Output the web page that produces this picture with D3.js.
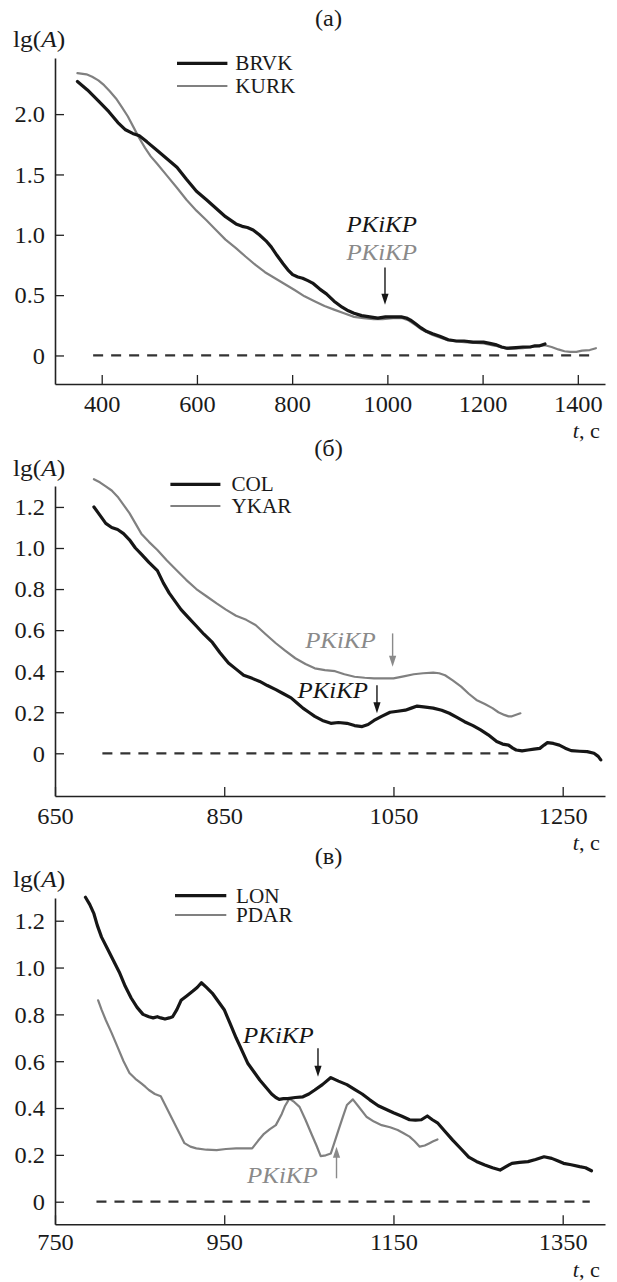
<!DOCTYPE html>
<html><head><meta charset="utf-8">
<script src="https://cdn.jsdelivr.net/npm/d3@7"></script>
<style>
body{margin:0;background:#fff}
svg{display:block}
text{font-family:"Liberation Serif","Times New Roman",serif;fill:#1a1a1a}
</style>
</head><body>
<svg id="chart" width="617" height="1282" font-family="Liberation Serif, serif"></svg>
<script>
// ---------- DATA ----------
const brvk = [[349,2.27],[370,2.20],[393,2.11],[415,2.02],[434,1.93],[450,1.87],[465,1.84],[479,1.82],[495,1.77],[516,1.70],[537,1.63],[558,1.56],[578,1.46],[599,1.36],[620,1.29],[640,1.22],[660,1.15],[682,1.09],[695,1.07],[706,1.06],[718,1.04],[731,1.00],[745,0.95],[756,0.90],[768,0.83],[781,0.76],[791,0.71],[801,0.67],[812,0.65],[822,0.64],[833,0.62],[843,0.60],[858,0.55],[872,0.51],[888,0.45],[905,0.40],[918,0.37],[930,0.35],[946,0.33],[963,0.32],[980,0.31],[996,0.32],[1012,0.32],[1029,0.32],[1040,0.31],[1050,0.29],[1060,0.26],[1070,0.23],[1082,0.20],[1095,0.18],[1110,0.16],[1128,0.13],[1145,0.12],[1161,0.12],[1180,0.11],[1202,0.11],[1215,0.10],[1227,0.09],[1240,0.07],[1252,0.06],[1270,0.065],[1285,0.07],[1300,0.07],[1310,0.08],[1320,0.08],[1331,0.095]];
const kurk = [[349,2.34],[368,2.33],[380,2.31],[393,2.28],[405,2.24],[417,2.19],[430,2.13],[442,2.06],[455,1.98],[467,1.89],[479,1.80],[491,1.72],[503,1.65],[516,1.59],[537,1.49],[558,1.39],[578,1.29],[599,1.20],[620,1.12],[640,1.04],[660,0.96],[682,0.89],[702,0.82],[723,0.75],[743,0.69],[764,0.64],[785,0.59],[806,0.54],[826,0.49],[847,0.45],[868,0.41],[888,0.38],[909,0.35],[930,0.32],[950,0.31],[971,0.30],[990,0.30],[1012,0.31],[1030,0.31],[1045,0.29],[1060,0.25],[1070,0.22],[1095,0.17],[1128,0.125],[1161,0.11],[1202,0.10],[1227,0.08],[1252,0.055],[1285,0.06],[1310,0.075],[1331,0.085],[1345,0.07],[1359,0.05],[1372,0.035],[1384,0.03],[1397,0.03],[1409,0.04],[1425,0.045],[1438,0.06]];

const col = [[696,1.20],[703,1.16],[710,1.12],[717,1.10],[724,1.09],[731,1.07],[738,1.04],[745,1.00],[752,0.97],[761,0.93],[771,0.89],[778,0.83],[785,0.78],[792,0.74],[799,0.70],[808,0.66],[817,0.62],[826,0.58],[836,0.54],[845,0.49],[855,0.44],[864,0.41],[873,0.38],[883,0.365],[892,0.35],[901,0.33],[911,0.31],[920,0.29],[929,0.27],[936,0.245],[943,0.22],[950,0.20],[957,0.18],[966,0.16],[976,0.146],[985,0.15],[995,0.146],[1004,0.135],[1013,0.13],[1020,0.14],[1027,0.16],[1036,0.18],[1046,0.20],[1055,0.205],[1064,0.21],[1071,0.22],[1078,0.23],[1088,0.225],[1097,0.22],[1107,0.21],[1116,0.195],[1125,0.175],[1134,0.154],[1144,0.135],[1153,0.114],[1162,0.09],[1172,0.057],[1179,0.045],[1186,0.04],[1191,0.025],[1195,0.016],[1202,0.012],[1209,0.016],[1216,0.02],[1223,0.024],[1228,0.04],[1232,0.052],[1239,0.048],[1246,0.04],[1253,0.025],[1260,0.013],[1270,0.01],[1279,0.008],[1287,0.0],[1292,-0.015],[1295,-0.032]];
const ykar = [[696,1.335],[703,1.32],[710,1.30],[717,1.28],[724,1.25],[731,1.21],[738,1.17],[745,1.12],[752,1.07],[761,1.03],[771,0.99],[782,0.94],[794,0.89],[805,0.845],[817,0.80],[829,0.765],[841,0.73],[852,0.70],[864,0.67],[876,0.65],[887,0.625],[899,0.58],[911,0.536],[922,0.50],[934,0.463],[946,0.435],[957,0.414],[969,0.405],[981,0.40],[992,0.385],[1004,0.373],[1016,0.368],[1027,0.365],[1039,0.365],[1050,0.365],[1062,0.375],[1074,0.385],[1085,0.39],[1097,0.393],[1104,0.39],[1111,0.38],[1120,0.355],[1130,0.325],[1139,0.29],[1148,0.26],[1158,0.24],[1167,0.22],[1174,0.20],[1181,0.187],[1186,0.18],[1190,0.18],[1195,0.188],[1200,0.195]];

const lon = [[786,1.30],[791,1.27],[796,1.23],[800,1.18],[805,1.13],[812,1.08],[819,1.03],[826,0.98],[833,0.92],[840,0.87],[847,0.83],[854,0.80],[861,0.79],[866,0.785],[871,0.79],[875,0.785],[880,0.78],[885,0.785],[889,0.79],[894,0.82],[899,0.86],[906,0.88],[913,0.90],[918,0.915],[923,0.935],[929,0.915],[936,0.89],[943,0.855],[950,0.82],[957,0.76],[964,0.70],[971,0.645],[978,0.59],[985,0.555],[992,0.52],[999,0.49],[1006,0.46],[1011,0.445],[1015,0.437],[1020,0.44],[1025,0.44],[1034,0.445],[1043,0.448],[1050,0.46],[1057,0.477],[1066,0.50],[1076,0.53],[1085,0.515],[1095,0.50],[1104,0.48],[1113,0.46],[1122,0.435],[1132,0.41],[1141,0.395],[1150,0.38],[1160,0.365],[1169,0.35],[1176,0.348],[1183,0.35],[1190,0.366],[1196,0.35],[1202,0.337],[1211,0.30],[1220,0.263],[1230,0.225],[1239,0.19],[1248,0.172],[1258,0.157],[1267,0.145],[1276,0.135],[1283,0.15],[1290,0.164],[1299,0.168],[1309,0.171],[1318,0.18],[1328,0.192],[1337,0.185],[1344,0.175],[1351,0.164],[1360,0.158],[1370,0.15],[1377,0.145],[1384,0.132]];
const pdar = [[801,0.86],[805,0.82],[810,0.776],[817,0.72],[824,0.66],[831,0.60],[838,0.55],[845,0.525],[852,0.505],[857,0.49],[861,0.477],[868,0.46],[875,0.45],[882,0.40],[889,0.35],[896,0.30],[903,0.25],[910,0.235],[917,0.228],[929,0.222],[941,0.22],[952,0.225],[964,0.228],[974,0.228],[983,0.228],[990,0.26],[997,0.29],[1004,0.31],[1011,0.327],[1018,0.375],[1022,0.41],[1027,0.44],[1033,0.425],[1039,0.405],[1046,0.35],[1053,0.29],[1059,0.24],[1064,0.195],[1070,0.198],[1076,0.206],[1080,0.25],[1085,0.306],[1090,0.36],[1095,0.413],[1102,0.437],[1108,0.41],[1118,0.363],[1127,0.342],[1136,0.327],[1146,0.318],[1155,0.306],[1162,0.292],[1169,0.278],[1175,0.258],[1181,0.235],[1187,0.24],[1192,0.249],[1197,0.258],[1202,0.266]];

// axis ticks
const xTicksA = [400,600,800,1000,1200,1400];
const yTicksA = [0,0.5,1.0,1.5,2.0];
const xTicksB = [650,850,1050,1250];
const yTicksB = [0,0.2,0.4,0.6,0.8,1.0,1.2];
const xTicksC = [750,950,1150,1350];
const yTicksC = [0,0.2,0.4,0.6,0.8,1.0,1.2];

// zero (dashed) reference lines: t start, t end
const zeroA = [382,1440];
const zeroB = [706,1189];
const zeroC = [799,1382];

// PKiKP annotations: arrow at t from v0 to v1 (head at v1); label at (lt, lv)
const notesA = [
  {t:995, v0:0.728, v1:0.42, lt:988, lv:1.019, anchor:"middle", dark:true, arrow:true},
  {lt:988, lv:0.794, anchor:"middle", dark:false, arrow:false}
];
const notesB = [
  {t:1049, v0:0.584, v1:0.421, lt:1029, lv:0.511, anchor:"end", dark:false, arrow:true},
  {t:1030.5, v0:0.332, v1:0.195, lt:1020, lv:0.268, anchor:"end", dark:true, arrow:true}
];
const notesC = [
  {t:1060.8, v0:0.655, v1:0.534, lt:1014, lv:0.676, anchor:"middle", dark:true, arrow:true},
  {t:1082.7, v0:0.10, v1:0.235, lt:1018.7, lv:0.079, anchor:"middle", dark:false, arrow:true}
];

// ---------- DRAW ----------
const DARK = "#161616", GRAY = "#808080", GRAYTXT = "#8a8a8a";
const SX = 1.06; // horizontal stretch of the serif glyphs
const FONT = '"Liberation Serif", "Times New Roman", serif';
const svg = d3.select("#chart");

const panels = [
  {title:"(а)", xd:[301.9,1457.1], yd:[-0.2365,2.465], top:58, bottom:384, titleY:25.5, ylabY:47, tickOff:28, xlabY:438,
   xt:xTicksA, yt:yTicksA, yfmt:d=>d===0?"0":d.toFixed(1), zero:zeroA, notes:notesA,
   series:[{d:kurk,c:GRAY,w:2.2},{d:brvk,c:DARK,w:3.2}],
   legend:[{n:"BRVK",c:DARK,w:3.2},{n:"KURK",c:GRAY,w:2.2}], legX:[177,227.4], legTX:235.3, legY:[63.3,86]},
  {title:"(б)", xd:[650,1300], yd:[-0.208,1.302], top:486, bottom:796, titleY:456, ylabY:476, tickOff:28, xlabY:850,
   xt:xTicksB, yt:yTicksB, yfmt:d=>d===0?"0":d.toFixed(1), zero:zeroB, notes:notesB,
   series:[{d:ykar,c:GRAY,w:2.2},{d:col,c:DARK,w:3.2}],
   legend:[{n:"COL",c:DARK,w:3.2},{n:"YKAR",c:GRAY,w:2.2}], legX:[170.4,220.4], legTX:231.4, legY:[484.3,506]},
  {title:"(в)", xd:[750,1400], yd:[-0.0965,1.297], top:898, bottom:1224.3, titleY:864, ylabY:887, tickOff:26, xlabY:1276.5,
   xt:xTicksC, yt:yTicksC, yfmt:d=>d===0?"0":d.toFixed(1), zero:zeroC, notes:notesC,
   series:[{d:pdar,c:GRAY,w:2.2},{d:lon,c:DARK,w:3.2}],
   legend:[{n:"LON",c:DARK,w:3.2},{n:"PDAR",c:GRAY,w:2.2}], legX:[175,226.3], legTX:236, legY:[895.7,915]}
];

const L = 55, R = 605;

panels.forEach(p => {
  const g = svg.append("g");
  const x = d3.scaleLinear().domain(p.xd).range([L, R]);
  const y = d3.scaleLinear().domain(p.yd).range([p.bottom, p.top]);

  // x axis
  const gx = g.append("g").attr("transform", `translate(0,${p.bottom})`)
    .call(d3.axisBottom(x).tickValues(p.xt).tickSizeInner(-9).tickSizeOuter(0).tickFormat(d=>String(d)));
  gx.attr("font-family", null).attr("font-size", null);
  gx.select(".domain").attr("stroke","#222").attr("stroke-width",1.6);
  gx.selectAll(".tick line").attr("stroke","#222").attr("stroke-width",1.3);
  gx.selectAll(".tick text").attr("y",null).attr("dy",null)
    .attr("transform",`translate(0,${p.tickOff}) scale(${SX},1)`)
    .style("font-size","23px").style("font-family",FONT).attr("fill","#1a1a1a");

  // y axis
  const gy = g.append("g").attr("transform", `translate(${L},0)`)
    .call(d3.axisLeft(y).tickValues(p.yt).tickSizeInner(-9).tickSizeOuter(0).tickFormat(p.yfmt));
  gy.attr("font-family", null).attr("font-size", null);
  gy.select(".domain").attr("stroke","#222").attr("stroke-width",1.6);
  gy.selectAll(".tick line").attr("stroke","#222").attr("stroke-width",1.3);
  gy.selectAll(".tick text").attr("x",null).attr("dy","0.34em")
    .attr("transform",`translate(-10,0) scale(${SX},1)`)
    .style("font-size","23px").style("font-family",FONT).attr("fill","#1a1a1a");

  // dashed zero line
  g.append("line")
    .attr("x1", x(p.zero[0])).attr("x2", x(p.zero[1]))
    .attr("y1", y(0)).attr("y2", y(0))
    .attr("stroke","#333").attr("stroke-width",2.3).attr("stroke-dasharray","10,8");

  // series
  const line = d3.line().x(d=>x(d[0])).y(d=>y(d[1]));
  p.series.forEach(s => {
    g.append("path").datum(s.d).attr("d", line)
      .attr("fill","none").attr("stroke", s.c).attr("stroke-width", s.w)
      .attr("stroke-linejoin","round").attr("stroke-linecap","round");
  });

  // annotations
  p.notes.forEach(n => {
    const c = n.dark ? DARK : GRAYTXT;
    if (n.arrow) {
      const ax = x(n.t), y0 = y(n.v0), y1 = y(n.v1);
      const dir = y1 > y0 ? 1 : -1;
      g.append("line").attr("x1",ax).attr("x2",ax).attr("y1",y0).attr("y2",y1 - dir*8)
        .attr("stroke", c).attr("stroke-width",1.4);
      g.append("path")
        .attr("d", `M${ax},${y1} L${ax-3.6},${y1-dir*11} L${ax+3.6},${y1-dir*11} Z`)
        .attr("fill", c);
    }
    g.append("text").attr("text-anchor", n.anchor)
      .attr("transform", `translate(${x(n.lt)},${y(n.lv)}) scale(${SX},1)`)
      .style("font-family",FONT).style("font-size","23.5px").style("font-style","italic").style("fill", c)
      .text("PKiKP");
  });

  // legend
  p.legend.forEach((l,i) => {
    g.append("line").attr("x1",p.legX[0]).attr("x2",p.legX[1])
      .attr("y1",p.legY[i]).attr("y2",p.legY[i]).attr("stroke",l.c).attr("stroke-width",l.w);
    g.append("text").attr("transform",`translate(${p.legTX},${p.legY[i]}) scale(${SX},1)`)
      .attr("dy","0.35em").style("font-family",FONT).style("font-size","20px").text(l.n);
  });

  // title
  g.append("text").attr("text-anchor","middle")
    .attr("transform",`translate(328.5,${p.titleY}) scale(${SX},1)`)
    .style("font-family",FONT).style("font-size","23px").text(p.title);

  // y label lg(A)
  const yl = g.append("text").attr("transform",`translate(13,${p.ylabY}) scale(${SX},1)`)
    .style("font-family",FONT).style("font-size","24px");
  yl.append("tspan").text("lg(");
  yl.append("tspan").style("font-style","italic").text("A");
  yl.append("tspan").text(")");

  // x label t, c
  const xl = g.append("text").attr("text-anchor","end")
    .attr("transform",`translate(600,${p.xlabY}) scale(${SX},1)`)
    .style("font-family",FONT).style("font-size","21px");
  xl.append("tspan").style("font-style","italic").text("t");
  xl.append("tspan").text(", с");
});
</script>
</body></html>
